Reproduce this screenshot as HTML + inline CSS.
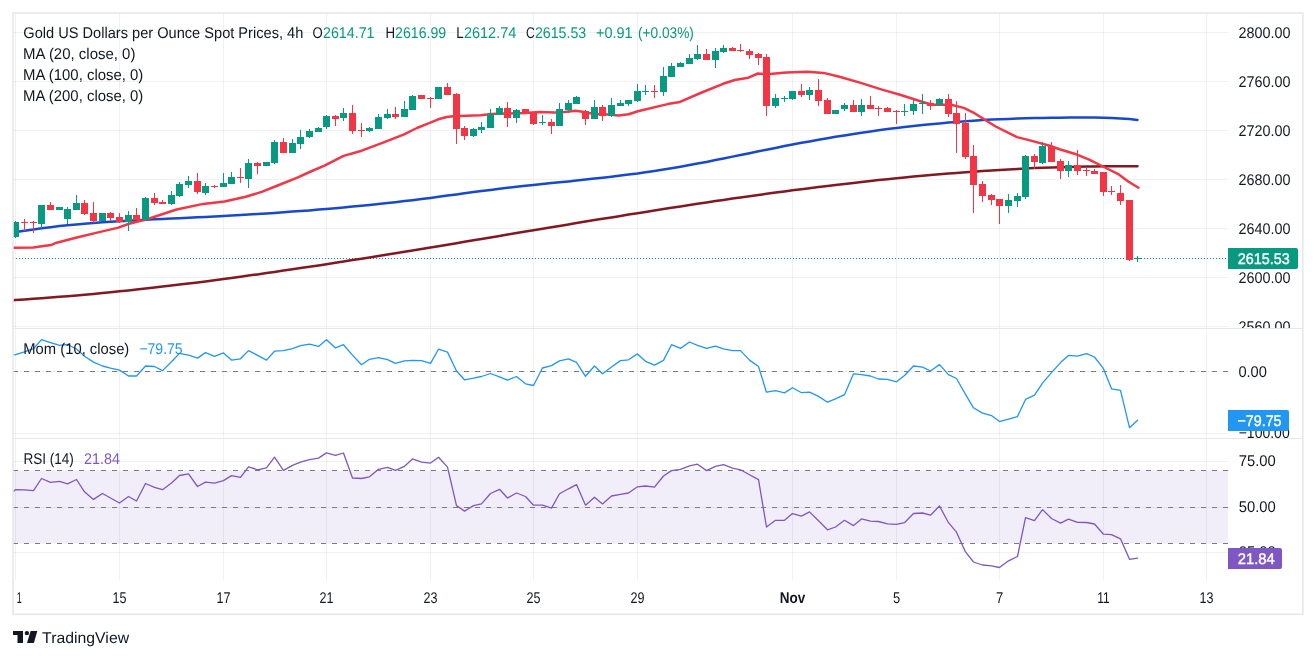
<!DOCTYPE html><html><head><meta charset="utf-8"><style>html,body{margin:0;padding:0;background:#fff;}svg{display:block;will-change:transform;text-rendering:geometricPrecision;}text{font-family:"Liberation Sans", sans-serif;}</style></head><body>
<svg width="1316" height="659" viewBox="0 0 1316 659">
<rect x="0" y="0" width="1316" height="659" fill="#ffffff"/>
<defs>
<clipPath id="cmain"><rect x="13" y="13" width="1215" height="315"/></clipPath>
<clipPath id="cmom"><rect x="13" y="329" width="1215" height="109"/></clipPath>
<clipPath id="crsi"><rect x="13" y="439" width="1215" height="141"/></clipPath>
<clipPath id="caxm"><rect x="1228" y="13" width="74" height="315"/></clipPath>
<clipPath id="caxmom"><rect x="1228" y="329" width="74" height="109"/></clipPath>
<clipPath id="caxrsi"><rect x="1228" y="439" width="74" height="141"/></clipPath>
</defs>
<line x1="15.5" y1="13" x2="15.5" y2="580" stroke="rgba(50,66,62,0.075)" stroke-width="1"/>
<line x1="119.5" y1="13" x2="119.5" y2="580" stroke="rgba(50,66,62,0.075)" stroke-width="1"/>
<line x1="223.5" y1="13" x2="223.5" y2="580" stroke="rgba(50,66,62,0.075)" stroke-width="1"/>
<line x1="326.5" y1="13" x2="326.5" y2="580" stroke="rgba(50,66,62,0.075)" stroke-width="1"/>
<line x1="430.5" y1="13" x2="430.5" y2="580" stroke="rgba(50,66,62,0.075)" stroke-width="1"/>
<line x1="533.5" y1="13" x2="533.5" y2="580" stroke="rgba(50,66,62,0.075)" stroke-width="1"/>
<line x1="637.5" y1="13" x2="637.5" y2="580" stroke="rgba(50,66,62,0.075)" stroke-width="1"/>
<line x1="792.5" y1="13" x2="792.5" y2="580" stroke="rgba(50,66,62,0.075)" stroke-width="1"/>
<line x1="896.5" y1="13" x2="896.5" y2="580" stroke="rgba(50,66,62,0.075)" stroke-width="1"/>
<line x1="999.5" y1="13" x2="999.5" y2="580" stroke="rgba(50,66,62,0.075)" stroke-width="1"/>
<line x1="1103.5" y1="13" x2="1103.5" y2="580" stroke="rgba(50,66,62,0.075)" stroke-width="1"/>
<line x1="1206.5" y1="13" x2="1206.5" y2="580" stroke="rgba(50,66,62,0.075)" stroke-width="1"/>
<line x1="13" y1="32.5" x2="1228" y2="32.5" stroke="rgba(50,66,62,0.075)" stroke-width="1"/>
<line x1="13" y1="81.5" x2="1228" y2="81.5" stroke="rgba(50,66,62,0.075)" stroke-width="1"/>
<line x1="13" y1="130.5" x2="1228" y2="130.5" stroke="rgba(50,66,62,0.075)" stroke-width="1"/>
<line x1="13" y1="179.5" x2="1228" y2="179.5" stroke="rgba(50,66,62,0.075)" stroke-width="1"/>
<line x1="13" y1="228.5" x2="1228" y2="228.5" stroke="rgba(50,66,62,0.075)" stroke-width="1"/>
<line x1="13" y1="277.5" x2="1228" y2="277.5" stroke="rgba(50,66,62,0.075)" stroke-width="1"/>
<line x1="13" y1="326.5" x2="1228" y2="326.5" stroke="rgba(50,66,62,0.075)" stroke-width="1"/>
<line x1="13" y1="371.5" x2="1228" y2="371.5" stroke="rgba(50,66,62,0.075)" stroke-width="1"/>
<line x1="13" y1="433.5" x2="1228" y2="433.5" stroke="rgba(50,66,62,0.075)" stroke-width="1"/>
<line x1="13" y1="461.5" x2="1228" y2="461.5" stroke="rgba(50,66,62,0.075)" stroke-width="1"/>
<line x1="13" y1="507.5" x2="1228" y2="507.5" stroke="rgba(50,66,62,0.075)" stroke-width="1"/>
<line x1="13" y1="552.5" x2="1228" y2="552.5" stroke="rgba(50,66,62,0.075)" stroke-width="1"/>
<rect x="13" y="470.5" width="1215" height="73" fill="#7E57C2" fill-opacity="0.1"/>
<line x1="13" y1="470.5" x2="1228" y2="470.5" stroke="#787B86" stroke-width="1" stroke-dasharray="5 6"/>
<line x1="13" y1="507.5" x2="1228" y2="507.5" stroke="#787B86" stroke-width="1" stroke-dasharray="5 6"/>
<line x1="13" y1="543.5" x2="1228" y2="543.5" stroke="#787B86" stroke-width="1" stroke-dasharray="5 6"/>
<line x1="13" y1="371.5" x2="1228" y2="371.5" stroke="#787B86" stroke-width="1" stroke-dasharray="5 6"/>
<line x1="13" y1="258.5" x2="1228" y2="258.5" stroke="#089981" stroke-width="1" stroke-dasharray="1 2"/>
<polyline clip-path="url(#cmain)" points="10.0,300.3 15.5,300.0 24.5,299.4 33.5,298.8 41.5,298.2 50.5,297.5 59.5,296.8 67.5,296.2 76.5,295.4 84.5,294.7 93.5,293.9 102.5,293.0 110.5,292.2 119.5,291.3 128.5,290.4 136.5,289.5 145.5,288.6 154.5,287.5 162.5,286.6 171.5,285.6 179.5,284.6 188.5,283.5 197.5,282.4 205.5,281.4 214.5,280.2 223.5,279.0 231.5,277.9 240.5,276.7 248.5,275.6 257.5,274.4 266.5,273.1 274.5,271.9 283.5,270.6 292.5,269.3 300.5,268.1 309.5,266.8 318.5,265.4 326.5,264.2 335.5,262.8 343.5,261.5 352.5,260.1 361.5,258.7 369.5,257.4 378.5,256.0 387.5,254.5 395.5,253.2 404.5,251.8 412.5,250.5 421.5,249.0 430.5,247.5 438.5,246.2 447.5,244.7 456.5,243.2 464.5,241.8 473.5,240.3 481.5,239.0 490.5,237.5 499.5,236.0 507.5,234.6 516.5,233.1 525.5,231.6 533.5,230.3 542.5,228.8 551.5,227.3 559.5,225.9 568.5,224.4 576.5,223.1 585.5,221.6 594.5,220.1 602.5,218.8 611.5,217.4 620.5,215.9 628.5,214.6 637.5,213.2 645.5,211.9 654.5,210.5 663.5,209.1 671.5,207.8 680.5,206.4 689.5,205.0 697.5,203.8 706.5,202.5 715.5,201.1 723.5,200.0 732.5,198.6 740.5,197.5 749.5,196.2 758.5,194.9 766.5,193.8 775.5,192.6 784.5,191.4 792.5,190.3 801.5,189.2 809.5,188.2 818.5,187.0 827.5,185.9 835.5,185.0 844.5,183.9 853.5,182.9 861.5,182.0 870.5,181.0 878.5,180.1 887.5,179.2 896.5,178.3 904.5,177.5 913.5,176.6 922.5,175.8 930.5,175.1 939.5,174.3 948.5,173.5 956.5,172.9 965.5,172.2 973.5,171.7 982.5,171.0 991.5,170.4 999.5,170.0 1008.5,169.4 1017.5,169.0 1025.5,168.6 1034.5,168.1 1042.5,167.8 1051.5,167.5 1060.5,167.2 1068.5,166.9 1077.5,166.7 1086.5,166.5 1094.5,166.4 1103.5,166.3 1111.5,166.2 1120.5,166.2 1129.5,166.2 1137.5,166.3" fill="none" stroke="#801922" stroke-width="2.5" stroke-linejoin="round" stroke-linecap="round"/>
<polyline clip-path="url(#cmain)" points="10.0,233.1 15.5,232.1 24.5,230.7 33.5,229.4 41.5,228.3 50.5,227.2 59.5,226.1 67.5,225.3 76.5,224.4 84.5,223.7 93.5,223.0 102.5,222.3 110.5,221.8 119.5,221.2 128.5,220.7 136.5,220.3 145.5,219.8 154.5,219.3 162.5,219.0 171.5,218.5 179.5,218.2 188.5,217.7 197.5,217.3 205.5,216.9 214.5,216.5 223.5,216.0 231.5,215.5 240.5,215.0 248.5,214.6 257.5,214.0 266.5,213.4 274.5,212.9 283.5,212.3 292.5,211.6 300.5,211.0 309.5,210.4 318.5,209.6 326.5,209.0 335.5,208.2 343.5,207.5 352.5,206.6 361.5,205.8 369.5,205.0 378.5,204.0 387.5,203.1 395.5,202.2 404.5,201.1 412.5,200.2 421.5,199.0 430.5,197.9 438.5,196.8 447.5,195.6 456.5,194.4 464.5,193.3 473.5,192.1 481.5,191.1 490.5,189.9 499.5,188.8 507.5,187.8 516.5,186.8 525.5,185.8 533.5,184.9 542.5,184.0 551.5,183.1 559.5,182.3 568.5,181.4 576.5,180.5 585.5,179.6 594.5,178.6 602.5,177.7 611.5,176.7 620.5,175.6 628.5,174.6 637.5,173.5 645.5,172.3 654.5,171.0 663.5,169.6 671.5,168.3 680.5,166.7 689.5,165.1 697.5,163.6 706.5,161.9 715.5,160.1 723.5,158.5 732.5,156.6 740.5,155.0 749.5,153.2 758.5,151.3 766.5,149.7 775.5,147.9 784.5,146.1 792.5,144.5 801.5,142.8 809.5,141.4 818.5,139.7 827.5,138.2 835.5,136.8 844.5,135.4 853.5,134.0 861.5,132.8 870.5,131.5 878.5,130.3 887.5,129.1 896.5,128.0 904.5,127.0 913.5,126.0 922.5,125.0 930.5,124.2 939.5,123.4 948.5,122.6 956.5,121.9 965.5,121.2 973.5,120.7 982.5,120.1 991.5,119.6 999.5,119.2 1008.5,118.9 1017.5,118.5 1025.5,118.3 1034.5,118.1 1042.5,117.9 1051.5,117.8 1060.5,117.7 1068.5,117.6 1077.5,117.5 1086.5,117.5 1094.5,117.6 1103.5,117.8 1111.5,118.0 1120.5,118.5 1129.5,119.1 1137.5,119.9" fill="none" stroke="#1848CC" stroke-width="2.5" stroke-linejoin="round" stroke-linecap="round"/>
<polyline clip-path="url(#cmain)" points="13.6,247.8 33.3,247.4 50.8,245.1 56.7,242.7 75.8,237.8 97.1,232.6 118.4,227.6 129.0,223.8 142.9,220.3 150.0,218.3 176.6,209.5 203.2,203.9 224.5,201.5 245.7,196.7 261.7,191.9 277.7,185.5 297.9,177.3 309.6,172.0 324.5,165.6 343.6,155.9 361.7,150.7 377.7,144.6 385.0,141.8 404.1,134.4 416.9,128.0 429.7,122.9 438.2,119.3 446.7,117.0 453.1,116.3 480.7,115.2 491.4,114.1 505.9,113.5 525.0,113.1 539.8,112.0 554.6,112.5 564.5,112.0 575.3,110.7 584.2,112.0 594.1,114.0 608.9,114.5 618.7,115.5 628.6,114.3 637.8,111.3 667.6,104.1 680.0,101.9 700.5,93.0 723.1,83.8 734.7,80.0 748.4,77.7 758.0,73.5 763.2,73.9 769.8,73.9 786.3,72.6 807.6,71.8 823.5,72.9 839.5,76.8 860.7,82.9 882.0,89.6 900.0,94.8 921.3,101.5 931.9,104.7 951.1,104.7 963.8,107.9 974.5,113.2 995.7,126.5 1017.0,137.1 1030.0,140.4 1049.7,145.8 1059.6,149.2 1074.4,153.7 1089.2,159.6 1104.0,167.0 1118.8,174.4 1128.6,181.8 1138.5,187.7" fill="none" stroke="#F23645" stroke-width="2.5" stroke-linejoin="round" stroke-linecap="round"/>
<g clip-path="url(#cmain)" shape-rendering="crispEdges">
<rect x="15" y="221" width="1" height="17" fill="#089981"/>
<rect x="12" y="222" width="7" height="15" fill="#089981"/>
<rect x="24" y="219" width="1" height="12" fill="#F23645"/>
<rect x="21" y="222" width="7" height="1" fill="#F23645"/>
<rect x="33" y="221" width="1" height="12" fill="#F23645"/>
<rect x="30" y="222" width="7" height="1" fill="#F23645"/>
<rect x="41" y="205" width="1" height="23" fill="#089981"/>
<rect x="38" y="205" width="7" height="19" fill="#089981"/>
<rect x="50" y="202" width="1" height="8" fill="#F23645"/>
<rect x="47" y="205" width="7" height="5" fill="#F23645"/>
<rect x="59" y="207" width="1" height="3" fill="#089981"/>
<rect x="56" y="207" width="7" height="3" fill="#089981"/>
<rect x="67" y="207" width="1" height="17" fill="#089981"/>
<rect x="64" y="209" width="7" height="10" fill="#089981"/>
<rect x="76" y="195" width="1" height="15" fill="#089981"/>
<rect x="73" y="203" width="7" height="7" fill="#089981"/>
<rect x="84" y="200" width="1" height="15" fill="#F23645"/>
<rect x="81" y="203" width="7" height="11" fill="#F23645"/>
<rect x="93" y="202" width="1" height="21" fill="#F23645"/>
<rect x="90" y="213" width="7" height="8" fill="#F23645"/>
<rect x="102" y="213" width="1" height="8" fill="#089981"/>
<rect x="99" y="213" width="7" height="8" fill="#089981"/>
<rect x="110" y="212" width="1" height="9" fill="#F23645"/>
<rect x="107" y="213" width="7" height="5" fill="#F23645"/>
<rect x="119" y="213" width="1" height="10" fill="#F23645"/>
<rect x="116" y="217" width="7" height="5" fill="#F23645"/>
<rect x="128" y="211" width="1" height="20" fill="#089981"/>
<rect x="125" y="215" width="7" height="7" fill="#089981"/>
<rect x="136" y="208" width="1" height="12" fill="#F23645"/>
<rect x="133" y="215" width="7" height="5" fill="#F23645"/>
<rect x="145" y="197" width="1" height="23" fill="#089981"/>
<rect x="142" y="198" width="7" height="22" fill="#089981"/>
<rect x="154" y="193" width="1" height="12" fill="#F23645"/>
<rect x="151" y="198" width="7" height="5" fill="#F23645"/>
<rect x="162" y="200" width="1" height="4" fill="#F23645"/>
<rect x="159" y="202" width="7" height="2" fill="#F23645"/>
<rect x="171" y="191" width="1" height="14" fill="#089981"/>
<rect x="168" y="195" width="7" height="9" fill="#089981"/>
<rect x="179" y="182" width="1" height="15" fill="#089981"/>
<rect x="176" y="184" width="7" height="12" fill="#089981"/>
<rect x="188" y="176" width="1" height="12" fill="#089981"/>
<rect x="185" y="181" width="7" height="4" fill="#089981"/>
<rect x="197" y="173" width="1" height="21" fill="#F23645"/>
<rect x="194" y="181" width="7" height="11" fill="#F23645"/>
<rect x="205" y="183" width="1" height="12" fill="#089981"/>
<rect x="202" y="186" width="7" height="7" fill="#089981"/>
<rect x="214" y="185" width="1" height="3" fill="#F23645"/>
<rect x="211" y="186" width="7" height="1" fill="#F23645"/>
<rect x="223" y="173" width="1" height="14" fill="#089981"/>
<rect x="220" y="183" width="7" height="4" fill="#089981"/>
<rect x="231" y="172" width="1" height="12" fill="#089981"/>
<rect x="228" y="177" width="7" height="7" fill="#089981"/>
<rect x="240" y="168" width="1" height="15" fill="#F23645"/>
<rect x="237" y="177" width="7" height="1" fill="#F23645"/>
<rect x="248" y="159" width="1" height="29" fill="#089981"/>
<rect x="245" y="163" width="7" height="16" fill="#089981"/>
<rect x="257" y="162" width="1" height="12" fill="#F23645"/>
<rect x="254" y="163" width="7" height="3" fill="#F23645"/>
<rect x="266" y="162" width="1" height="4" fill="#089981"/>
<rect x="263" y="162" width="7" height="4" fill="#089981"/>
<rect x="274" y="140" width="1" height="24" fill="#089981"/>
<rect x="271" y="142" width="7" height="21" fill="#089981"/>
<rect x="283" y="138" width="1" height="15" fill="#F23645"/>
<rect x="280" y="142" width="7" height="11" fill="#F23645"/>
<rect x="292" y="139" width="1" height="14" fill="#089981"/>
<rect x="289" y="143" width="7" height="10" fill="#089981"/>
<rect x="300" y="130" width="1" height="19" fill="#089981"/>
<rect x="297" y="137" width="7" height="7" fill="#089981"/>
<rect x="309" y="129" width="1" height="9" fill="#089981"/>
<rect x="306" y="131" width="7" height="6" fill="#089981"/>
<rect x="318" y="127" width="1" height="5" fill="#089981"/>
<rect x="315" y="128" width="7" height="4" fill="#089981"/>
<rect x="326" y="115" width="1" height="14" fill="#089981"/>
<rect x="323" y="116" width="7" height="11" fill="#089981"/>
<rect x="335" y="115" width="1" height="11" fill="#F23645"/>
<rect x="332" y="116" width="7" height="3" fill="#F23645"/>
<rect x="343" y="108" width="1" height="13" fill="#089981"/>
<rect x="340" y="113" width="7" height="5" fill="#089981"/>
<rect x="352" y="105" width="1" height="29" fill="#F23645"/>
<rect x="349" y="113" width="7" height="18" fill="#F23645"/>
<rect x="361" y="123" width="1" height="14" fill="#F23645"/>
<rect x="358" y="130" width="7" height="1" fill="#F23645"/>
<rect x="369" y="127" width="1" height="5" fill="#089981"/>
<rect x="366" y="128" width="7" height="3" fill="#089981"/>
<rect x="378" y="114" width="1" height="15" fill="#089981"/>
<rect x="375" y="117" width="7" height="12" fill="#089981"/>
<rect x="387" y="109" width="1" height="10" fill="#089981"/>
<rect x="384" y="114" width="7" height="4" fill="#089981"/>
<rect x="395" y="107" width="1" height="12" fill="#F23645"/>
<rect x="392" y="114" width="7" height="3" fill="#F23645"/>
<rect x="404" y="101" width="1" height="16" fill="#089981"/>
<rect x="401" y="109" width="7" height="8" fill="#089981"/>
<rect x="412" y="95" width="1" height="15" fill="#089981"/>
<rect x="409" y="96" width="7" height="14" fill="#089981"/>
<rect x="421" y="95" width="1" height="4" fill="#F23645"/>
<rect x="418" y="95" width="7" height="4" fill="#F23645"/>
<rect x="430" y="97" width="1" height="11" fill="#F23645"/>
<rect x="427" y="98" width="7" height="1" fill="#F23645"/>
<rect x="438" y="87" width="1" height="12" fill="#089981"/>
<rect x="435" y="87" width="7" height="12" fill="#089981"/>
<rect x="447" y="83" width="1" height="12" fill="#F23645"/>
<rect x="444" y="87" width="7" height="8" fill="#F23645"/>
<rect x="456" y="93" width="1" height="51" fill="#F23645"/>
<rect x="453" y="94" width="7" height="35" fill="#F23645"/>
<rect x="464" y="126" width="1" height="14" fill="#F23645"/>
<rect x="461" y="128" width="7" height="8" fill="#F23645"/>
<rect x="473" y="128" width="1" height="9" fill="#089981"/>
<rect x="470" y="129" width="7" height="7" fill="#089981"/>
<rect x="481" y="122" width="1" height="11" fill="#089981"/>
<rect x="478" y="127" width="7" height="3" fill="#089981"/>
<rect x="490" y="109" width="1" height="19" fill="#089981"/>
<rect x="487" y="114" width="7" height="14" fill="#089981"/>
<rect x="499" y="106" width="1" height="9" fill="#089981"/>
<rect x="496" y="108" width="7" height="7" fill="#089981"/>
<rect x="507" y="102" width="1" height="25" fill="#F23645"/>
<rect x="504" y="108" width="7" height="10" fill="#F23645"/>
<rect x="516" y="109" width="1" height="14" fill="#089981"/>
<rect x="513" y="110" width="7" height="8" fill="#089981"/>
<rect x="525" y="109" width="1" height="4" fill="#F23645"/>
<rect x="522" y="109" width="7" height="4" fill="#F23645"/>
<rect x="533" y="112" width="1" height="13" fill="#F23645"/>
<rect x="530" y="112" width="7" height="12" fill="#F23645"/>
<rect x="542" y="115" width="1" height="10" fill="#089981"/>
<rect x="539" y="122" width="7" height="1" fill="#089981"/>
<rect x="551" y="119" width="1" height="15" fill="#F23645"/>
<rect x="548" y="122" width="7" height="4" fill="#F23645"/>
<rect x="559" y="103" width="1" height="23" fill="#089981"/>
<rect x="556" y="109" width="7" height="17" fill="#089981"/>
<rect x="568" y="100" width="1" height="13" fill="#089981"/>
<rect x="565" y="103" width="7" height="7" fill="#089981"/>
<rect x="576" y="96" width="1" height="8" fill="#089981"/>
<rect x="573" y="97" width="7" height="7" fill="#089981"/>
<rect x="585" y="110" width="1" height="15" fill="#F23645"/>
<rect x="582" y="111" width="7" height="8" fill="#F23645"/>
<rect x="594" y="100" width="1" height="19" fill="#089981"/>
<rect x="591" y="107" width="7" height="12" fill="#089981"/>
<rect x="602" y="105" width="1" height="16" fill="#F23645"/>
<rect x="599" y="107" width="7" height="9" fill="#F23645"/>
<rect x="611" y="98" width="1" height="19" fill="#089981"/>
<rect x="608" y="105" width="7" height="11" fill="#089981"/>
<rect x="620" y="100" width="1" height="6" fill="#089981"/>
<rect x="617" y="103" width="7" height="3" fill="#089981"/>
<rect x="628" y="100" width="1" height="6" fill="#089981"/>
<rect x="625" y="100" width="7" height="4" fill="#089981"/>
<rect x="637" y="84" width="1" height="18" fill="#089981"/>
<rect x="634" y="91" width="7" height="10" fill="#089981"/>
<rect x="645" y="85" width="1" height="10" fill="#089981"/>
<rect x="642" y="91" width="7" height="1" fill="#089981"/>
<rect x="654" y="85" width="1" height="13" fill="#F23645"/>
<rect x="651" y="91" width="7" height="1" fill="#F23645"/>
<rect x="663" y="67" width="1" height="29" fill="#089981"/>
<rect x="660" y="76" width="7" height="16" fill="#089981"/>
<rect x="671" y="63" width="1" height="14" fill="#089981"/>
<rect x="668" y="66" width="7" height="11" fill="#089981"/>
<rect x="680" y="62" width="1" height="5" fill="#089981"/>
<rect x="677" y="63" width="7" height="4" fill="#089981"/>
<rect x="689" y="54" width="1" height="10" fill="#089981"/>
<rect x="686" y="58" width="7" height="6" fill="#089981"/>
<rect x="697" y="45" width="1" height="15" fill="#089981"/>
<rect x="694" y="54" width="7" height="5" fill="#089981"/>
<rect x="706" y="49" width="1" height="11" fill="#F23645"/>
<rect x="703" y="54" width="7" height="6" fill="#F23645"/>
<rect x="715" y="48" width="1" height="20" fill="#089981"/>
<rect x="712" y="51" width="7" height="9" fill="#089981"/>
<rect x="723" y="45" width="1" height="8" fill="#089981"/>
<rect x="720" y="48" width="7" height="4" fill="#089981"/>
<rect x="732" y="47" width="1" height="4" fill="#F23645"/>
<rect x="729" y="48" width="7" height="3" fill="#F23645"/>
<rect x="740" y="44" width="1" height="8" fill="#F23645"/>
<rect x="737" y="50" width="7" height="1" fill="#F23645"/>
<rect x="749" y="49" width="1" height="10" fill="#F23645"/>
<rect x="746" y="51" width="7" height="4" fill="#F23645"/>
<rect x="758" y="53" width="1" height="12" fill="#F23645"/>
<rect x="755" y="54" width="7" height="4" fill="#F23645"/>
<rect x="766" y="54" width="1" height="62" fill="#F23645"/>
<rect x="763" y="57" width="7" height="49" fill="#F23645"/>
<rect x="775" y="94" width="1" height="14" fill="#089981"/>
<rect x="772" y="98" width="7" height="8" fill="#089981"/>
<rect x="784" y="96" width="1" height="6" fill="#089981"/>
<rect x="781" y="98" width="7" height="1" fill="#089981"/>
<rect x="792" y="91" width="1" height="9" fill="#089981"/>
<rect x="789" y="91" width="7" height="8" fill="#089981"/>
<rect x="801" y="84" width="1" height="13" fill="#F23645"/>
<rect x="798" y="91" width="7" height="4" fill="#F23645"/>
<rect x="809" y="87" width="1" height="13" fill="#089981"/>
<rect x="806" y="90" width="7" height="5" fill="#089981"/>
<rect x="818" y="79" width="1" height="27" fill="#F23645"/>
<rect x="815" y="90" width="7" height="11" fill="#F23645"/>
<rect x="827" y="98" width="1" height="16" fill="#F23645"/>
<rect x="824" y="100" width="7" height="14" fill="#F23645"/>
<rect x="835" y="110" width="1" height="4" fill="#089981"/>
<rect x="832" y="110" width="7" height="4" fill="#089981"/>
<rect x="844" y="103" width="1" height="8" fill="#089981"/>
<rect x="841" y="105" width="7" height="4" fill="#089981"/>
<rect x="853" y="100" width="1" height="12" fill="#F23645"/>
<rect x="850" y="105" width="7" height="7" fill="#F23645"/>
<rect x="861" y="99" width="1" height="17" fill="#089981"/>
<rect x="858" y="105" width="7" height="7" fill="#089981"/>
<rect x="870" y="96" width="1" height="13" fill="#F23645"/>
<rect x="867" y="105" width="7" height="4" fill="#F23645"/>
<rect x="878" y="106" width="1" height="10" fill="#F23645"/>
<rect x="875" y="108" width="7" height="1" fill="#F23645"/>
<rect x="887" y="107" width="1" height="5" fill="#F23645"/>
<rect x="884" y="108" width="7" height="4" fill="#F23645"/>
<rect x="896" y="110" width="1" height="14" fill="#F23645"/>
<rect x="893" y="111" width="7" height="1" fill="#F23645"/>
<rect x="904" y="104" width="1" height="12" fill="#089981"/>
<rect x="901" y="111" width="7" height="1" fill="#089981"/>
<rect x="913" y="100" width="1" height="15" fill="#089981"/>
<rect x="910" y="104" width="7" height="7" fill="#089981"/>
<rect x="922" y="94" width="1" height="20" fill="#089981"/>
<rect x="919" y="103" width="7" height="1" fill="#089981"/>
<rect x="930" y="100" width="1" height="10" fill="#F23645"/>
<rect x="927" y="103" width="7" height="3" fill="#F23645"/>
<rect x="939" y="98" width="1" height="7" fill="#089981"/>
<rect x="936" y="99" width="7" height="6" fill="#089981"/>
<rect x="948" y="94" width="1" height="23" fill="#F23645"/>
<rect x="945" y="99" width="7" height="15" fill="#F23645"/>
<rect x="956" y="101" width="1" height="52" fill="#F23645"/>
<rect x="953" y="113" width="7" height="11" fill="#F23645"/>
<rect x="965" y="113" width="1" height="46" fill="#F23645"/>
<rect x="962" y="123" width="7" height="34" fill="#F23645"/>
<rect x="973" y="145" width="1" height="68" fill="#F23645"/>
<rect x="970" y="156" width="7" height="29" fill="#F23645"/>
<rect x="982" y="181" width="1" height="21" fill="#F23645"/>
<rect x="979" y="184" width="7" height="12" fill="#F23645"/>
<rect x="991" y="194" width="1" height="11" fill="#F23645"/>
<rect x="988" y="195" width="7" height="5" fill="#F23645"/>
<rect x="999" y="199" width="1" height="25" fill="#F23645"/>
<rect x="996" y="199" width="7" height="7" fill="#F23645"/>
<rect x="1008" y="194" width="1" height="19" fill="#089981"/>
<rect x="1005" y="200" width="7" height="6" fill="#089981"/>
<rect x="1017" y="193" width="1" height="14" fill="#089981"/>
<rect x="1014" y="196" width="7" height="5" fill="#089981"/>
<rect x="1025" y="155" width="1" height="44" fill="#089981"/>
<rect x="1022" y="156" width="7" height="41" fill="#089981"/>
<rect x="1034" y="154" width="1" height="15" fill="#F23645"/>
<rect x="1031" y="156" width="7" height="6" fill="#F23645"/>
<rect x="1042" y="142" width="1" height="22" fill="#089981"/>
<rect x="1039" y="146" width="7" height="17" fill="#089981"/>
<rect x="1051" y="142" width="1" height="20" fill="#F23645"/>
<rect x="1048" y="146" width="7" height="16" fill="#F23645"/>
<rect x="1060" y="159" width="1" height="20" fill="#F23645"/>
<rect x="1057" y="161" width="7" height="10" fill="#F23645"/>
<rect x="1068" y="161" width="1" height="16" fill="#089981"/>
<rect x="1065" y="165" width="7" height="6" fill="#089981"/>
<rect x="1077" y="150" width="1" height="25" fill="#F23645"/>
<rect x="1074" y="165" width="7" height="6" fill="#F23645"/>
<rect x="1086" y="168" width="1" height="8" fill="#F23645"/>
<rect x="1083" y="170" width="7" height="1" fill="#F23645"/>
<rect x="1094" y="169" width="1" height="5" fill="#F23645"/>
<rect x="1091" y="171" width="7" height="3" fill="#F23645"/>
<rect x="1103" y="172" width="1" height="24" fill="#F23645"/>
<rect x="1100" y="172" width="7" height="20" fill="#F23645"/>
<rect x="1111" y="186" width="1" height="9" fill="#F23645"/>
<rect x="1108" y="191" width="7" height="1" fill="#F23645"/>
<rect x="1120" y="185" width="1" height="20" fill="#F23645"/>
<rect x="1117" y="193" width="7" height="8" fill="#F23645"/>
<rect x="1129" y="200" width="1" height="61" fill="#F23645"/>
<rect x="1126" y="200" width="7" height="60" fill="#F23645"/>
<rect x="1137" y="256" width="1" height="6" fill="#089981"/>
<rect x="1134" y="258" width="7" height="1" fill="#089981"/>
</g>
<polyline clip-path="url(#cmom)" points="7.5,355.5 15.5,354.6 24.5,351.8 33.5,348.7 41.5,339.6 50.5,342.6 59.5,345.4 67.5,344.5 76.5,349.0 84.5,356.3 93.5,362.1 102.5,366.0 110.5,368.1 119.5,370.1 128.5,376.0 136.5,376.0 145.5,366.0 154.5,366.5 162.5,370.6 171.5,361.8 179.5,353.4 188.5,355.1 197.5,358.1 205.5,352.6 214.5,356.3 223.5,352.9 231.5,360.1 240.5,358.8 248.5,350.6 257.5,355.4 266.5,360.1 274.5,351.2 283.5,350.6 292.5,348.7 300.5,345.6 309.5,344.2 318.5,346.4 326.5,339.7 335.5,347.9 343.5,344.7 352.5,355.1 361.5,364.8 369.5,359.3 378.5,357.6 387.5,359.6 395.5,363.4 404.5,360.9 412.5,360.4 421.5,360.6 430.5,363.4 438.5,349.2 447.5,352.1 456.5,371.0 464.5,379.8 473.5,378.2 481.5,376.5 490.5,373.5 499.5,376.8 507.5,380.2 516.5,376.5 525.5,383.8 533.5,385.5 542.5,368.0 551.5,365.6 559.5,360.9 568.5,358.8 576.5,362.3 585.5,376.3 594.5,366.0 602.5,373.8 611.5,367.1 620.5,360.6 628.5,359.8 637.5,353.9 645.5,361.3 654.5,365.1 663.5,360.4 671.5,344.7 680.5,348.4 689.5,342.0 697.5,345.4 706.5,348.4 715.5,346.1 723.5,348.9 732.5,350.6 740.5,350.6 749.5,360.1 758.5,366.5 766.5,392.2 775.5,390.7 784.5,392.9 792.5,387.7 801.5,392.7 809.5,392.2 818.5,396.4 827.5,402.2 835.5,398.9 844.5,394.7 853.5,373.8 861.5,374.6 870.5,376.0 878.5,379.0 887.5,379.3 896.5,381.8 904.5,375.5 913.5,366.0 922.5,367.1 930.5,371.0 939.5,364.6 948.5,374.6 956.5,378.5 965.5,394.4 973.5,407.8 982.5,413.1 991.5,415.6 999.5,421.6 1008.5,419.1 1017.5,416.6 1025.5,399.4 1034.5,395.2 1042.5,383.2 1051.5,372.6 1060.5,362.6 1068.5,355.4 1077.5,356.2 1086.5,353.7 1094.5,357.0 1103.5,368.7 1111.5,388.8 1120.5,390.4 1129.5,427.7 1137.5,420.2" fill="none" stroke="#2196F3" stroke-width="1.3" stroke-linejoin="round" stroke-linecap="round"/>
<polyline clip-path="url(#crsi)" points="7.5,496.0 15.5,489.7 24.5,489.8 33.5,490.7 41.5,478.5 50.5,482.3 59.5,481.3 67.5,483.8 76.5,479.5 84.5,491.8 93.5,499.4 102.5,493.5 110.5,498.0 119.5,503.0 128.5,496.5 136.5,501.0 145.5,483.5 154.5,487.3 162.5,489.7 171.5,483.0 179.5,475.5 188.5,473.8 197.5,486.5 205.5,482.1 214.5,483.1 223.5,480.6 231.5,475.6 240.5,477.3 248.5,466.8 257.5,469.8 266.5,467.9 274.5,457.1 283.5,470.4 292.5,465.4 300.5,462.1 309.5,459.6 318.5,458.1 326.5,452.9 335.5,455.4 343.5,453.0 352.5,478.0 361.5,478.5 369.5,476.8 378.5,469.3 387.5,467.3 395.5,470.4 404.5,466.3 412.5,458.9 421.5,462.2 430.5,463.1 438.5,457.2 447.5,467.1 456.5,505.6 464.5,511.1 473.5,505.6 481.5,503.9 490.5,493.5 499.5,489.3 507.5,498.0 516.5,493.0 525.5,496.5 533.5,505.2 542.5,505.2 551.5,508.1 559.5,493.8 568.5,488.8 576.5,484.6 585.5,505.2 594.5,497.2 602.5,503.9 611.5,496.0 620.5,494.3 628.5,493.0 637.5,486.8 645.5,486.0 654.5,487.2 663.5,476.0 671.5,470.6 680.5,469.3 689.5,465.9 697.5,464.2 706.5,470.6 715.5,466.3 723.5,464.6 732.5,468.1 740.5,469.8 749.5,474.8 758.5,479.6 766.5,527.0 775.5,520.3 784.5,520.3 792.5,513.6 801.5,516.1 809.5,511.9 818.5,520.8 827.5,529.8 835.5,527.0 844.5,520.3 853.5,525.6 861.5,518.9 870.5,521.1 878.5,521.5 887.5,523.8 896.5,524.3 904.5,522.7 913.5,513.5 922.5,513.0 930.5,515.2 939.5,506.0 948.5,522.7 956.5,532.2 965.5,551.9 973.5,562.0 982.5,565.0 991.5,565.8 999.5,567.5 1008.5,560.8 1017.5,556.5 1025.5,517.7 1034.5,520.7 1042.5,509.6 1051.5,518.5 1060.5,523.2 1068.5,519.1 1077.5,522.3 1086.5,522.5 1094.5,524.0 1103.5,534.2 1111.5,534.6 1120.5,538.8 1129.5,559.3 1137.5,558.1" fill="none" stroke="#7E57C2" stroke-width="1.3" stroke-linejoin="round" stroke-linecap="round"/>
<line x1="12" y1="328.5" x2="1303" y2="328.5" stroke="#E6E8ED" stroke-width="1"/>
<line x1="12" y1="438.5" x2="1303" y2="438.5" stroke="#E6E8ED" stroke-width="1"/>
<rect x="13" y="13" width="1289.8" height="601.3" fill="none" stroke="#E6E8ED" stroke-width="1.6"/>
<text x="23.3" y="38.3" font-size="15.5" fill="#131722" font-weight="normal" text-anchor="start" textLength="280" lengthAdjust="spacingAndGlyphs">Gold US Dollars per Ounce Spot Prices, 4h</text>
<text x="312.6" y="38.3" font-size="15.5" fill="#131722" font-weight="normal" text-anchor="start" textLength="10.2" lengthAdjust="spacingAndGlyphs">O</text>
<text x="323" y="38.3" font-size="15.5" fill="#089981" font-weight="normal" text-anchor="start" textLength="51.5" lengthAdjust="spacingAndGlyphs">2614.71</text>
<text x="385.5" y="38.3" font-size="15.5" fill="#131722" font-weight="normal" text-anchor="start" textLength="9.6" lengthAdjust="spacingAndGlyphs">H</text>
<text x="395.1" y="38.3" font-size="15.5" fill="#089981" font-weight="normal" text-anchor="start" textLength="51.1" lengthAdjust="spacingAndGlyphs">2616.99</text>
<text x="456.2" y="38.3" font-size="15.5" fill="#131722" font-weight="normal" text-anchor="start" textLength="7.4" lengthAdjust="spacingAndGlyphs">L</text>
<text x="463.9" y="38.3" font-size="15.5" fill="#089981" font-weight="normal" text-anchor="start" textLength="52.4" lengthAdjust="spacingAndGlyphs">2612.74</text>
<text x="526.1" y="38.3" font-size="15.5" fill="#131722" font-weight="normal" text-anchor="start" textLength="8.8" lengthAdjust="spacingAndGlyphs">C</text>
<text x="534.9" y="38.3" font-size="15.5" fill="#089981" font-weight="normal" text-anchor="start" textLength="51.3" lengthAdjust="spacingAndGlyphs">2615.53</text>
<text x="596" y="38.3" font-size="15.5" fill="#089981" font-weight="normal" text-anchor="start" textLength="36.7" lengthAdjust="spacingAndGlyphs">+0.91</text>
<text x="638" y="38.3" font-size="15.5" fill="#089981" font-weight="normal" text-anchor="start" textLength="55.9" lengthAdjust="spacingAndGlyphs">(+0.03%)</text>
<text x="23.1" y="59.0" font-size="15.5" fill="#131722" font-weight="normal" text-anchor="start" textLength="112.3" lengthAdjust="spacingAndGlyphs">MA (20, close, 0)</text>
<text x="23.1" y="80.0" font-size="15.5" fill="#131722" font-weight="normal" text-anchor="start" textLength="120.2" lengthAdjust="spacingAndGlyphs">MA (100, close, 0)</text>
<text x="23.1" y="101.0" font-size="15.5" fill="#131722" font-weight="normal" text-anchor="start" textLength="120.2" lengthAdjust="spacingAndGlyphs">MA (200, close, 0)</text>
<text x="23.3" y="353.8" font-size="15.5" fill="#131722" font-weight="normal" text-anchor="start" textLength="106" lengthAdjust="spacingAndGlyphs">Mom (10, close)</text>
<text x="139.4" y="353.8" font-size="15.5" fill="#2196F3" font-weight="normal" text-anchor="start" textLength="43.2" lengthAdjust="spacingAndGlyphs">−79.75</text>
<text x="23.4" y="464.3" font-size="15.5" fill="#131722" font-weight="normal" text-anchor="start" textLength="50.5" lengthAdjust="spacingAndGlyphs">RSI (14)</text>
<text x="83.9" y="464.3" font-size="15.5" fill="#7E57C2" font-weight="normal" text-anchor="start" textLength="36" lengthAdjust="spacingAndGlyphs">21.84</text>
<text x="1238.4" y="37.8" font-size="15.5" fill="#131722" font-weight="normal" text-anchor="start" textLength="52" lengthAdjust="spacingAndGlyphs" clip-path="url(#caxm)">2800.00</text>
<text x="1238.4" y="86.8" font-size="15.5" fill="#131722" font-weight="normal" text-anchor="start" textLength="52" lengthAdjust="spacingAndGlyphs" clip-path="url(#caxm)">2760.00</text>
<text x="1238.4" y="135.8" font-size="15.5" fill="#131722" font-weight="normal" text-anchor="start" textLength="52" lengthAdjust="spacingAndGlyphs" clip-path="url(#caxm)">2720.00</text>
<text x="1238.4" y="184.8" font-size="15.5" fill="#131722" font-weight="normal" text-anchor="start" textLength="52" lengthAdjust="spacingAndGlyphs" clip-path="url(#caxm)">2680.00</text>
<text x="1238.4" y="233.8" font-size="15.5" fill="#131722" font-weight="normal" text-anchor="start" textLength="52" lengthAdjust="spacingAndGlyphs" clip-path="url(#caxm)">2640.00</text>
<text x="1238.4" y="282.8" font-size="15.5" fill="#131722" font-weight="normal" text-anchor="start" textLength="52" lengthAdjust="spacingAndGlyphs" clip-path="url(#caxm)">2600.00</text>
<text x="1238.4" y="331.8" font-size="15.5" fill="#131722" font-weight="normal" text-anchor="start" textLength="52" lengthAdjust="spacingAndGlyphs" clip-path="url(#caxm)">2560.00</text>
<path d="M1228,248 H1296 Q1298,248 1298,250 V267 Q1298,269 1296,269 H1228 Z" fill="#089981"/>
<text x="1237.8" y="263.9" font-size="15.5" fill="#ffffff" font-weight="normal" text-anchor="start" textLength="52" lengthAdjust="spacingAndGlyphs" stroke="#ffffff" stroke-width="0.4">2615.53</text>
<text x="1238.4" y="376.5" font-size="15.5" fill="#131722" font-weight="normal" text-anchor="start" textLength="28.5" lengthAdjust="spacingAndGlyphs" clip-path="url(#caxmom)">0.00</text>
<text x="1238.7" y="437.8" font-size="15.5" fill="#131722" font-weight="normal" text-anchor="start" textLength="51" lengthAdjust="spacingAndGlyphs" clip-path="url(#caxmom)">−100.00</text>
<path d="M1228,410 H1287 Q1289,410 1289,412 V429 Q1289,431 1287,431 H1228 Z" fill="#2196F3"/>
<text x="1237.5" y="425.8" font-size="15.5" fill="#ffffff" font-weight="normal" text-anchor="start" textLength="44" lengthAdjust="spacingAndGlyphs" stroke="#ffffff" stroke-width="0.4">−79.75</text>
<text x="1238.7" y="465.7" font-size="15.5" fill="#131722" font-weight="normal" text-anchor="start" textLength="37" lengthAdjust="spacingAndGlyphs" clip-path="url(#caxrsi)">75.00</text>
<text x="1238.7" y="511.5" font-size="15.5" fill="#131722" font-weight="normal" text-anchor="start" textLength="37" lengthAdjust="spacingAndGlyphs" clip-path="url(#caxrsi)">50.00</text>
<text x="1238.7" y="556.5999999999999" font-size="15.5" fill="#131722" font-weight="normal" text-anchor="start" textLength="37" lengthAdjust="spacingAndGlyphs" clip-path="url(#caxrsi)">25.00</text>
<path d="M1228,548 H1280 Q1282,548 1282,550 V567 Q1282,569 1280,569 H1228 Z" fill="#7E57C2"/>
<text x="1237.8" y="563.8" font-size="15.5" fill="#ffffff" font-weight="normal" text-anchor="start" textLength="37" lengthAdjust="spacingAndGlyphs" stroke="#ffffff" stroke-width="0.4">21.84</text>
<text x="112.5" y="603.4" font-size="15.5" fill="#131722" font-weight="normal" text-anchor="start" textLength="14" lengthAdjust="spacingAndGlyphs">15</text>
<text x="216.5" y="603.4" font-size="15.5" fill="#131722" font-weight="normal" text-anchor="start" textLength="14" lengthAdjust="spacingAndGlyphs">17</text>
<text x="319.5" y="603.4" font-size="15.5" fill="#131722" font-weight="normal" text-anchor="start" textLength="14" lengthAdjust="spacingAndGlyphs">21</text>
<text x="423.5" y="603.4" font-size="15.5" fill="#131722" font-weight="normal" text-anchor="start" textLength="14" lengthAdjust="spacingAndGlyphs">23</text>
<text x="526.5" y="603.4" font-size="15.5" fill="#131722" font-weight="normal" text-anchor="start" textLength="14" lengthAdjust="spacingAndGlyphs">25</text>
<text x="630.5" y="603.4" font-size="15.5" fill="#131722" font-weight="normal" text-anchor="start" textLength="14" lengthAdjust="spacingAndGlyphs">29</text>
<text x="892.9" y="603.4" font-size="15.5" fill="#131722" font-weight="normal" text-anchor="start" textLength="7.2" lengthAdjust="spacingAndGlyphs">5</text>
<text x="995.9" y="603.4" font-size="15.5" fill="#131722" font-weight="normal" text-anchor="start" textLength="7.2" lengthAdjust="spacingAndGlyphs">7</text>
<text x="1097.25" y="603.4" font-size="15.5" fill="#131722" font-weight="normal" text-anchor="start" textLength="12.5" lengthAdjust="spacingAndGlyphs">11</text>
<text x="1199.5" y="603.4" font-size="15.5" fill="#131722" font-weight="normal" text-anchor="start" textLength="14" lengthAdjust="spacingAndGlyphs">13</text>
<text x="16.8" y="603.4" font-size="15.5" fill="#131722" font-weight="normal" text-anchor="start" textLength="5" lengthAdjust="spacingAndGlyphs">1</text>
<text x="792.5" y="603.4" font-size="15.5" fill="#131722" font-weight="bold" text-anchor="middle" textLength="25.5" lengthAdjust="spacingAndGlyphs">Nov</text>
<path d="M13,631 H23 V643 H17.5 V635 H13 Z" fill="#131722"/>
<circle cx="26.9" cy="633.1" r="2.2" fill="#131722"/>
<path d="M30.6,631 H37.3 L33.9,643 H27.0 Z" fill="#131722"/>
<text x="42.1" y="642.5" font-size="15.5" fill="#131722" font-weight="normal" text-anchor="start" textLength="87" lengthAdjust="spacingAndGlyphs">TradingView</text>
</svg></body></html>
